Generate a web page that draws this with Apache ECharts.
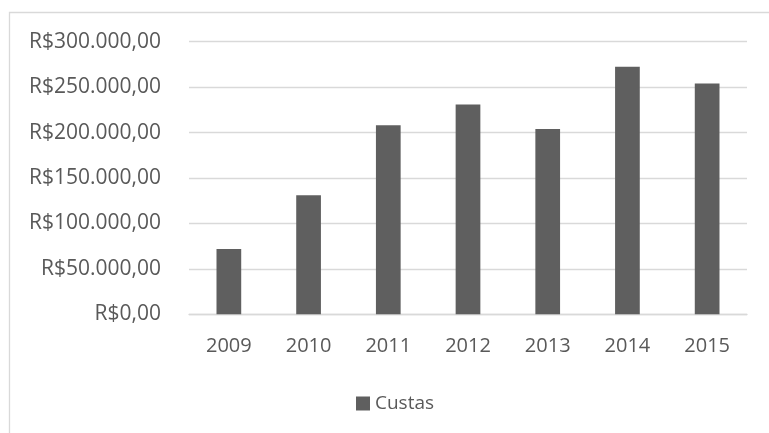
<!DOCTYPE html>
<html>
<head>
<meta charset="utf-8">
<script src="https://cdn.jsdelivr.net/npm/echarts@6/dist/echarts.min.js"></script>
<style>
html,body{margin:0;padding:0;background:#fff;}
#chart{width:769px;height:433px;}
</style>
</head>
<body>
<div id="chart"></div>
<script>
var categories = ['2009','2010','2011','2012','2013','2014','2015'];
var custas = [72000, 131000, 208000, 231000, 204000, 272500, 254000];
var seriesName = 'Custas';
var yMin = 0, yMax = 300000, yStep = 50000;

function brl(v){
  var s = Math.round(v).toString().replace(/\B(?=(\d{3})+(?!\d))/g, '.');
  return 'R$' + s + ',00';
}

var font = '"Open Sans", sans-serif';
var chart = echarts.init(document.getElementById('chart'), null, {renderer:'canvas'});
chart.setOption({
  backgroundColor: '#ffffff',
  animation: false,
  graphic: [{
    type: 'rect',
    shape: {x: 9.5, y: 12.5, width: 900, height: 600},
    style: {fill: 'none', stroke: '#d9d9d9', lineWidth: 1.3},
    silent: true
  }],
  grid: {left: 189, right: 22, top: 41.7, bottom: 118.7, containLabel: false},
  legend: {
    data: [seriesName],
    left: 351, top: 389,
    itemWidth: 14, itemHeight: 14, itemGap: 10,
    icon: 'rect',
    textStyle: {fontFamily: font, fontSize: 19, color: '#595959', padding: [0,0,0,0]}
  },
  xAxis: {
    type: 'category',
    data: categories,
    axisLine: {show: true, lineStyle: {color: '#d9d9d9', width: 1.3}},
    axisTick: {show: false},
    axisLabel: {fontFamily: font, fontSize: 20, color: '#595959', margin: 22}
  },
  yAxis: {
    type: 'value',
    min: yMin, max: yMax, interval: yStep,
    axisLine: {show: false},
    axisTick: {show: false},
    splitLine: {lineStyle: {color: '#d9d9d9', width: 1.3}},
    axisLabel: {fontFamily: font, fontSize: 21, color: '#595959', margin: 28, formatter: brl}
  },
  series: [{
    name: seriesName,
    type: 'bar',
    data: custas,
    barWidth: '31%',
    itemStyle: {color: '#5f5f5f'}
  }]
});
</script>
</body>
</html>
